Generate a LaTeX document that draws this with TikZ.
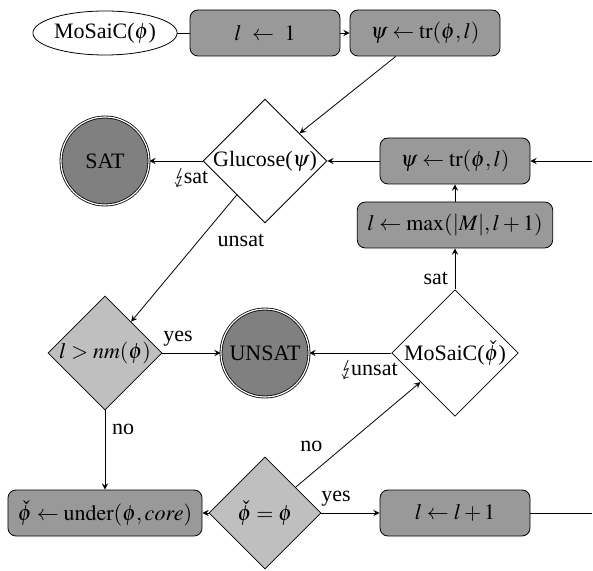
\documentclass[tikz,border=0pt]{standalone}
\usepackage{mathptmx}
\usepackage{stmaryrd}
\usepackage{fontspec}
\setmainfont{Liberation Serif}
\usepackage{tikz}
\usetikzlibrary{shapes,arrows,positioning}
\usepackage{xcolor}

\begin{document}
\begin{tikzpicture}[
        on grid,
        font=\fontsize{11}{13}\selectfont,
        box/.style={rectangle, draw, rounded corners, fill=gray!80, minimum width=75pt, minimum height=23pt, inner xsep=5pt, align=center},
        test/.style={diamond, draw, aspect=1, inner sep=0pt, minimum size=55pt},
        result/.style={circle, draw, double, fill=gray, minimum size=44pt, inner sep=0pt},
        entry/.style={ellipse, draw, inner sep=0pt, minimum width=71pt, minimum height=22pt},
        arrow/.style={->, >=stealth}
    ]
        \useasboundingbox (0,0) rectangle (296.5pt,-285.5pt);

        % start
        \node[entry] (start) at (52.5pt,-16.5pt) {MoSaiC($\phi$)};
        \node[box, right=80pt of start] (init) {$l \ \leftarrow\ 1$};
        \node[box, right=80pt of init] (trtop) {$\psi \leftarrow \mathrm{tr}(\phi, l)$};

        % SAT check
        \node[test, minimum size=61pt, below=64pt of init] (glucose) {Glucose($\psi$)};
        \node[result, left=80pt of glucose] (sat) {SAT};
        \node[box, right=95pt of glucose] (trloop) {$\psi \leftarrow \mathrm{tr}(\phi, l)$};
        \node[box, below=32pt of trloop] (grow) {$l \leftarrow \max(|M|, l+1)$};

        % UNSAT checks
        \node[test, fill=lightgray, below=96pt of sat] (bound) {$l > nm(\phi)$};
        \node[result, below=96pt of glucose] (unsat) {UNSAT};
        \node[test, minimum size=62pt, below=96pt of trloop] (mosaic) {MoSaiC($\check{\phi}$)};

        % refinement
        \node[box, below=80pt of bound] (under) {$\check{\phi} \leftarrow \mathrm{under}(\phi, core)$};
        \node[test, minimum size=56pt, fill=lightgray, below=80pt of unsat] (same) {$\check{\phi} = \phi$};
        \node[box, below=80pt of mosaic] (incr) {$l \leftarrow l+1$};

        % loop ends at the border
        \coordinate[right=68.5pt of trloop] (loopin);
        \coordinate[right=68.5pt of incr] (loopout);

        \draw (start) -- (init);
        \draw[arrow] (init) -- (trtop);
        \draw[arrow] (trtop) -- (glucose);
        \draw[arrow] (glucose) -- node[pos=0.22, below] {$\lightning$\kern-1.5pt sat} (sat);
        \draw[arrow] (glucose) -- node[pos=0.36, right, xshift=6pt] {unsat} (bound);
        \draw[arrow] (bound) -- node[pos=0.27, above] {yes} (unsat);
        \draw[arrow] (bound) -- node[pos=0.24, right] {no} (under);
        \draw[arrow] (same) -- (under);
        \draw[arrow] (same) -- node[pos=0.27, above left] {no} (mosaic);
        \draw[arrow] (same) -- node[pos=0.25, above] {yes} (incr);
        \draw[arrow] (mosaic) -- node[pos=0.27, below] {$\lightning$\kern-1.5pt unsat} (unsat);
        \draw[arrow] (mosaic) -- node[pos=0.26, left] {sat} (grow);
        \draw[arrow] (grow) -- (trloop);
        \draw[arrow] (trloop) -- (glucose);
        \draw[arrow] (loopin) -- (trloop);
        \draw (incr) -- (loopout);

    \end{tikzpicture}
\end{document}
